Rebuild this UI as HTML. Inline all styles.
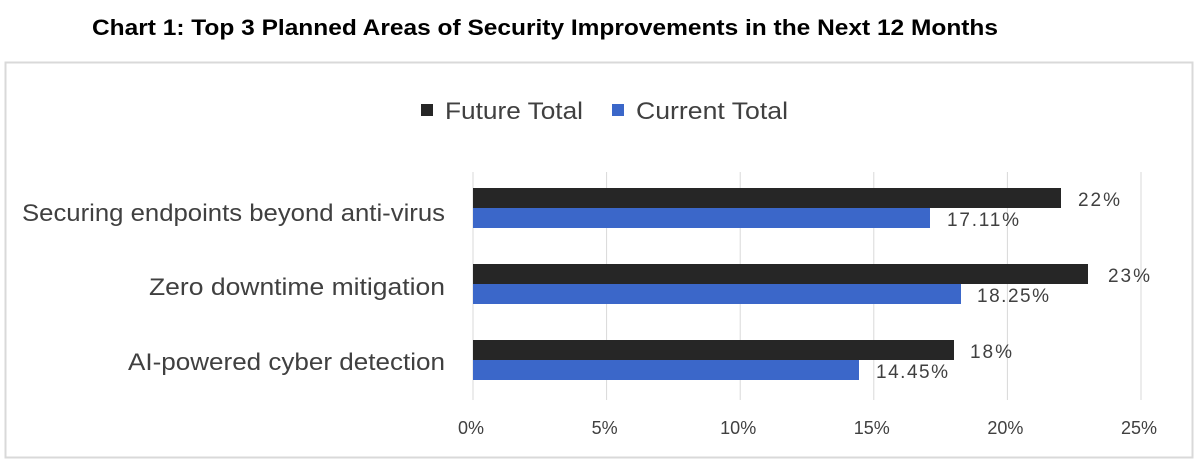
<!DOCTYPE html>
<html><head><meta charset="utf-8"><style>
body{margin:0;width:1200px;height:463px;background:#fff;overflow:hidden;font-family:"Liberation Sans",sans-serif}
</style></head><body>
<svg width="1200" height="463" xmlns="http://www.w3.org/2000/svg" font-family="Liberation Sans, sans-serif">
<text x="92" y="35" font-size="22" font-weight="bold" fill="#000" textLength="906" lengthAdjust="spacingAndGlyphs">Chart 1: Top 3 Planned Areas of Security Improvements in the Next 12 Months</text>
<rect x="5.5" y="62.5" width="1187" height="395" fill="#fff" stroke="#d9d9d9" stroke-width="2"/>
<rect x="421" y="104" width="12" height="12" fill="#262626"/>
<text x="445" y="119" font-size="24" fill="#404040" textLength="138" lengthAdjust="spacingAndGlyphs">Future Total</text>
<rect x="612" y="104" width="12" height="12" fill="#3b67c9"/>
<text x="636" y="119" font-size="24" fill="#404040" textLength="152" lengthAdjust="spacingAndGlyphs">Current Total</text>
<g stroke="#d9d9d9" stroke-width="1">
<line x1="473" y1="172" x2="473" y2="400"/><line x1="606.6" y1="172" x2="606.6" y2="400"/>
<line x1="740.2" y1="172" x2="740.2" y2="400"/><line x1="873.8" y1="172" x2="873.8" y2="400"/>
<line x1="1007.4" y1="172" x2="1007.4" y2="400"/><line x1="1141" y1="172" x2="1141" y2="400"/>
</g>
<rect x="473" y="188" width="588" height="20" fill="#262626"/>
<rect x="473" y="208" width="457" height="20" fill="#3b67c9"/>
<rect x="473" y="264" width="615" height="20" fill="#262626"/>
<rect x="473" y="284" width="488" height="20" fill="#3b67c9"/>
<rect x="473" y="340" width="481" height="20" fill="#262626"/>
<rect x="473" y="360" width="386" height="20" fill="#3b67c9"/>
<g font-size="19" fill="#404040" lengthAdjust="spacingAndGlyphs">
<text x="1078" y="206" textLength="42">22%</text><text x="947" y="226" textLength="72">17.11%</text>
<text x="1108" y="282" textLength="42">23%</text><text x="977" y="302" textLength="72">18.25%</text>
<text x="970" y="358" textLength="42">18%</text><text x="876" y="378" textLength="72">14.45%</text>
</g>
<g font-size="24" fill="#404040">
<text x="22" y="221" textLength="423" lengthAdjust="spacingAndGlyphs">Securing endpoints beyond anti-virus</text>
<text x="149" y="295" textLength="296" lengthAdjust="spacingAndGlyphs">Zero downtime mitigation</text>
<text x="128" y="370" textLength="317" lengthAdjust="spacingAndGlyphs">AI-powered cyber detection</text>
</g>
<g font-size="18" fill="#404040" text-anchor="middle">
<text x="471" y="434">0%</text><text x="604.6" y="434">5%</text><text x="738.2" y="434">10%</text>
<text x="871.8" y="434">15%</text><text x="1005.4" y="434">20%</text><text x="1139" y="434">25%</text>
</g>
</svg>
</body></html>
